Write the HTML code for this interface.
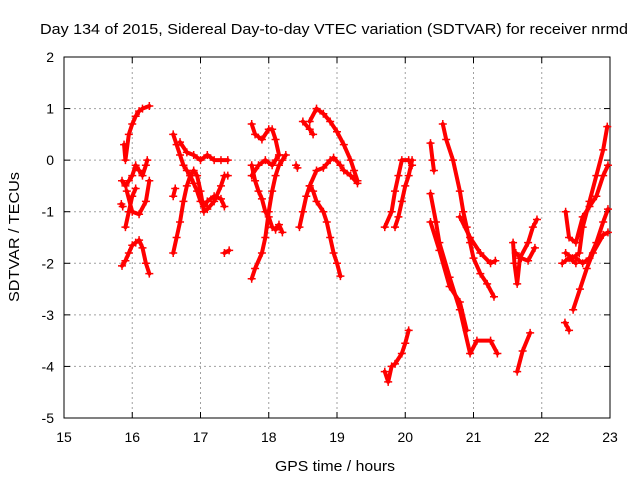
<!DOCTYPE html>
<html><head><meta charset="utf-8"><style>
body{margin:0;background:#fff}
svg{display:block;font-family:"Liberation Sans",sans-serif}
</style></head><body>
<svg id="c" width="640" height="480">
<text x="40" y="34" font-size="15" textLength="588" lengthAdjust="spacingAndGlyphs">Day 134 of 2015, Sidereal Day-to-day VTEC variation (SDTVAR) for receiver nrmd</text>
<text x="275" y="471" font-size="15" textLength="120" lengthAdjust="spacingAndGlyphs">GPS time / hours</text>
<text x="0" y="0" font-size="15" textLength="130" lengthAdjust="spacingAndGlyphs" transform="translate(19,302) rotate(-90)">SDTVAR / TECUs</text>
</svg>
<script>
const xTicks=[15,16,17,18,19,20,21,22,23];
const yTicks=[2,1,0,-1,-2,-3,-4,-5];
const tracks=[
[[15.88,0.3],[15.9,0.0],[15.95,0.5],[16.0,0.7],[16.05,0.85],[16.1,0.95],[16.15,1.0],[16.25,1.05]],
[[15.85,-2.05],[15.9,-1.95],[15.95,-1.8],[16.0,-1.65],[16.05,-1.6],[16.1,-1.55],[16.15,-1.7],[16.2,-2.0],[16.25,-2.2]],
[[15.85,-0.4],[15.9,-0.5],[15.95,-0.4],[16.0,-0.3],[16.05,-0.1],[16.1,-0.2],[16.15,-0.3],[16.2,-0.1],[16.22,0.0]],
[[15.92,-0.6],[16.0,-1.0],[16.1,-1.05],[16.2,-0.8],[16.25,-0.4]],
[[15.9,-1.3],[15.95,-1.0],[16.0,-0.7],[16.05,-0.55]],
[[15.84,-0.85],[15.86,-0.9]],
[[16.6,0.5],[16.65,0.3],[16.7,0.1],[16.75,-0.1],[16.8,-0.2],[16.85,-0.3],[16.9,-0.45],[16.95,-0.6],[17.0,-0.8],[17.05,-0.9],[17.1,-0.8],[17.2,-0.7],[17.3,-0.75],[17.35,-0.9]],
[[16.7,0.35],[16.8,0.15],[16.9,0.1],[17.0,0.0],[17.1,0.1],[17.2,0.0],[17.3,0.0],[17.4,0.0]],
[[16.6,-1.8],[16.65,-1.5],[16.7,-1.2],[16.75,-0.8],[16.8,-0.5],[16.85,-0.3],[16.9,-0.2],[16.95,-0.3],[17.0,-0.6],[17.05,-1.0],[17.1,-0.95],[17.2,-0.8],[17.3,-0.5],[17.35,-0.3],[17.4,-0.3]],
[[16.6,-0.7],[16.63,-0.55]],
[[17.35,-1.8],[17.42,-1.75]],
[[17.75,0.7],[17.8,0.5],[17.9,0.4],[18.0,0.6],[18.05,0.6],[18.1,0.4],[18.15,0.1]],
[[17.75,-2.3],[17.8,-2.1],[17.9,-1.8],[17.95,-1.5],[18.0,-1.0],[18.05,-0.6],[18.1,-0.3],[18.15,-0.1],[18.2,0.0],[18.25,0.1]],
[[17.75,-0.1],[17.8,-0.4],[17.85,-0.6],[17.9,-0.75],[17.95,-1.0],[18.0,-1.1],[18.05,-1.3],[18.1,-1.35],[18.15,-1.25],[18.2,-1.4]],
[[17.75,-0.3],[17.85,-0.1],[17.95,0.0],[18.05,-0.1],[18.1,0.0],[18.15,0.1]],
[[18.6,0.75],[18.7,1.0],[18.8,0.9],[18.9,0.75],[19.0,0.55],[19.1,0.3],[19.2,0.0],[19.25,-0.2],[19.3,-0.4]],
[[18.5,0.75],[18.6,0.6],[18.65,0.5]],
[[18.6,-0.5],[18.65,-0.6],[18.7,-0.8],[18.8,-1.0],[18.85,-1.2],[18.9,-1.5],[18.95,-1.8],[19.0,-2.0],[19.05,-2.25]],
[[18.45,-1.3],[18.5,-1.0],[18.55,-0.7],[18.6,-0.5],[18.7,-0.2],[18.8,-0.15],[18.9,0.0],[18.95,0.05],[19.05,-0.1],[19.1,-0.2],[19.2,-0.3],[19.3,-0.45]],
[[18.4,-0.1],[18.42,-0.15]],
[[19.7,-4.1],[19.75,-4.3],[19.8,-4.0],[19.85,-3.95],[19.95,-3.75],[20.0,-3.55],[20.05,-3.3]],
[[19.7,-1.3],[19.8,-1.0],[19.85,-0.6],[19.9,-0.3],[19.95,0.0],[20.05,0.0],[20.1,-0.1]],
[[19.85,-1.3],[19.9,-1.1],[19.95,-0.8],[20.0,-0.5],[20.05,-0.3],[20.1,0.0]],
[[20.55,0.7],[20.6,0.4],[20.7,0.0],[20.8,-0.6],[20.85,-1.0],[20.9,-1.3],[20.95,-1.6],[21.0,-1.9],[21.1,-2.2],[21.2,-2.4],[21.3,-2.65]],
[[20.37,0.33],[20.4,0.0],[20.42,-0.2]],
[[20.37,-0.65],[20.45,-1.2],[20.5,-1.6],[20.65,-2.27],[20.8,-2.9],[20.95,-3.75],[21.05,-3.5],[21.25,-3.5],[21.35,-3.75]],
[[20.8,-1.1],[20.95,-1.5],[21.1,-1.8],[21.25,-2.0],[21.32,-1.95]],
[[20.37,-1.2],[20.5,-1.75],[20.65,-2.45],[20.8,-2.75],[20.9,-3.3]],
[[21.58,-1.6],[21.6,-2.0],[21.64,-2.4],[21.68,-1.9],[21.8,-1.6],[21.87,-1.3],[21.93,-1.15]],
[[21.64,-4.1],[21.72,-3.7],[21.83,-3.35]],
[[21.62,-1.8],[21.7,-1.9],[21.8,-1.95],[21.9,-1.7]],
[[22.34,-3.15],[22.4,-3.3]],
[[22.46,-2.9],[22.56,-2.5],[22.66,-2.1],[22.75,-1.8],[22.9,-1.45],[22.97,-1.4]],
[[22.35,-1.8],[22.45,-1.9],[22.55,-1.8],[22.6,-1.3],[22.7,-0.8],[22.8,-0.3],[22.9,0.2],[22.96,0.65]],
[[22.35,-1.0],[22.4,-1.5],[22.5,-1.6],[22.6,-1.1],[22.7,-0.9],[22.8,-0.7],[22.9,-0.3],[22.97,-0.1]],
[[22.5,-1.9],[22.6,-2.0],[22.7,-1.9],[22.8,-1.6],[22.9,-1.2],[22.97,-0.95]],
[[22.3,-2.0],[22.4,-1.9],[22.5,-2.0]]
];
const L=64,R=610,T=57,B=418;
const sx=t=>L+(t-15)/8*(R-L);
const sy=v=>T+(2-v)/7*(B-T);
const NS="http://www.w3.org/2000/svg";
const svg=document.getElementById('c');
function mk(tag,attrs,parent){const e=document.createElementNS(NS,tag);for(const k in attrs)e.setAttribute(k,attrs[k]);(parent||svg).appendChild(e);return e;}
const grid=mk('g',{});


xTicks.forEach(t=>{
  const x=sx(t);
  if(t>15&&t<23)mk('line',{x1:x,x2:x,y1:T,y2:B,stroke:'#a0a0a0','stroke-dasharray':'2,3'},grid);
  mk('line',{x1:x,x2:x,y1:B,y2:B-6,stroke:'#000'},grid);
  mk('line',{x1:x,x2:x,y1:T,y2:T+6,stroke:'#000'},grid);
  const tx=mk('text',{x:x,y:B+24,'text-anchor':'middle','font-size':14});
  tx.textContent=t;
  
  
});
yTicks.forEach(v=>{
  const y=sy(v);
  if(v<2&&v>-5)mk('line',{x1:L,x2:R,y1:y,y2:y,stroke:'#a0a0a0','stroke-dasharray':'2,3'},grid);
  mk('line',{x1:L,x2:L+6,y1:y,y2:y,stroke:'#000'},grid);
  mk('line',{x1:R,x2:R-6,y1:y,y2:y,stroke:'#000'},grid);
  const tx=mk('text',{x:L-10,y:y+5,'text-anchor':'end','font-size':14});
  tx.textContent=v;
  
  
});
const frame=mk('rect',{x:L,y:T,width:R-L,height:B-T,fill:'none',stroke:'#000'});


const series=mk('g',{});


tracks.forEach(tr=>{
  const pl=mk('polyline',{points:tr.map(p=>sx(p[0])+','+sy(p[1])).join(' '),fill:'none',stroke:'#f00','stroke-width':4,'stroke-linejoin':'round','stroke-linecap':'round'},series);
  
  
  tr.forEach(p=>{
    const x=sx(p[0]),y=sy(p[1]);
    const m=mk('path',{d:`M${x-4},${y}H${x+4}M${x},${y-4}V${y+4}`,stroke:'#f00','stroke-width':1.5},series);
    
    
  });
});
</script>
</body></html>
